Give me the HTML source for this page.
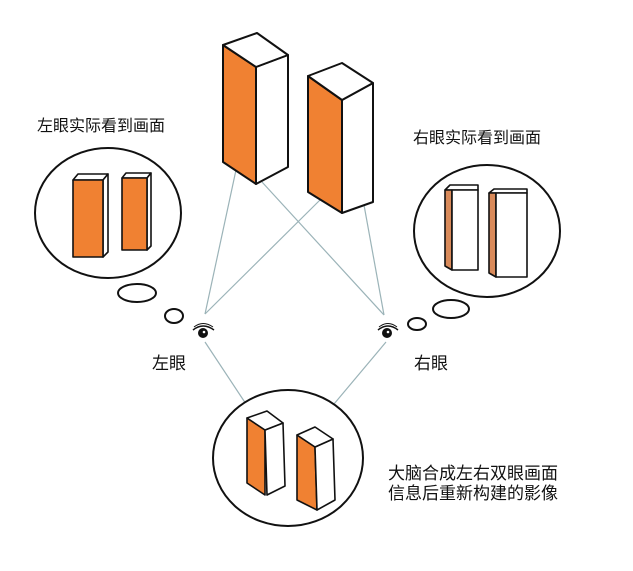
<!DOCTYPE html>
<html><head><meta charset="utf-8"><style>
html,body{margin:0;padding:0;background:#fff;width:633px;height:571px;overflow:hidden}
svg text{font-family:"Liberation Sans","Noto Sans CJK SC",sans-serif;fill:#111}
</style></head><body>
<svg width="633" height="571" viewBox="0 0 633 571" xmlns="http://www.w3.org/2000/svg">
<g stroke="#9bb3b8" stroke-width="1.2" fill="none">
<line x1="236" y1="170" x2="205" y2="314"/>
<line x1="262" y1="182" x2="384" y2="315"/>
<line x1="320" y1="200" x2="205" y2="314"/>
<line x1="364" y1="205" x2="384" y2="315"/>
<line x1="205" y1="342" x2="246" y2="404"/>
<line x1="386" y1="342" x2="334" y2="404"/>
</g>
<g stroke="#111" stroke-width="2" stroke-linejoin="round">
<!-- box 1 -->
<polygon points="223,45 256,67 256,184 223,162" fill="#f08132"/>
<polygon points="256,67 288,55 288,167 256,184" fill="#fff"/>
<polygon points="223,45 257,33 288,55 256,67" fill="#fff"/>
<!-- box 2 -->
<polygon points="308,76 342,100 342,213 308,192" fill="#f08132"/>
<polygon points="342,100 373,83 373,202 342,213" fill="#fff"/>
<polygon points="308,76 342,63 373,83 342,100" fill="#fff"/>
</g>
<!-- left bubble -->
<g stroke="#111" stroke-width="2" fill="#fff">
<ellipse cx="108" cy="213" rx="73" ry="65"/>
<ellipse cx="137" cy="293" rx="19" ry="9"/>
<ellipse cx="174" cy="316" rx="9" ry="7"/>
<ellipse cx="487" cy="231" rx="73" ry="66"/>
<ellipse cx="451" cy="309" rx="18" ry="9"/>
<ellipse cx="417" cy="324" rx="9" ry="6"/>
<ellipse cx="288" cy="458" rx="75" ry="68"/>
</g>
<g stroke="#111" stroke-width="1.6" stroke-linejoin="round">
<polygon points="73,180 78,174 108,174 103,180" fill="#fff"/>
<polygon points="103,180 108,174 108,252 103,257" fill="#fff"/>
<rect x="73" y="180" width="30" height="77" fill="#f08132"/>
<polygon points="122,178 126,173 151,173 147,178" fill="#fff"/>
<polygon points="147,178 151,173 151,246 147,250" fill="#fff"/>
<rect x="122" y="178" width="25" height="72" fill="#f08132"/>
<!-- right bubble bars -->
<polygon points="445,190 450,185 478,185 478,190" fill="#fff"/>
<polygon points="445,190 452,190 452,270 445,266" fill="#d98a5a"/>
<rect x="452" y="190" width="26" height="80" fill="#fff"/>
<polygon points="489,193 494,189 527,189 527,193" fill="#fff"/>
<polygon points="489,193 496,193 496,277 489,273" fill="#d98a5a"/>
<rect x="496" y="193" width="31" height="84" fill="#fff"/>
<!-- bottom boxes -->
<polygon points="247,418 265,430 265,495 247,483" fill="#f08132"/>
<polygon points="265,430 283,423 285,486 267,495" fill="#fff"/>
<polygon points="247,418 267,411 283,423 265,430" fill="#fff"/>
<polygon points="297,435 315,447 317,510 297,500" fill="#f08132"/>
<polygon points="315,447 333,439 335,500 317,510" fill="#fff"/>
<polygon points="297,435 315,427 333,439 315,447" fill="#fff"/>
</g>
<!-- eyes -->
<g>
<path d="M193,330 Q203,322 214,330" stroke="#111" stroke-width="1.5" fill="none"/>
<path d="M194,327 Q203,320 213,327" stroke="#111" stroke-width="1" fill="none"/>
<ellipse cx="203" cy="333" rx="5" ry="5" fill="#111"/>
<circle cx="204" cy="332" r="1.3" fill="#fff"/>
<path d="M378,330 Q388,322 398,330" stroke="#111" stroke-width="1.5" fill="none"/>
<path d="M379,327 Q388,320 397,327" stroke="#111" stroke-width="1" fill="none"/>
<ellipse cx="387" cy="333" rx="5" ry="5" fill="#111"/>
<circle cx="388" cy="332" r="1.3" fill="#fff"/>
</g>
<text x="37" y="131" font-size="16">左眼实际看到画面</text>
<text x="413" y="143" font-size="16">右眼实际看到画面</text>
<text x="152" y="369" font-size="17">左眼</text>
<text x="414" y="369" font-size="17">右眼</text>
<text x="388" y="479" font-size="17">大脑合成左右双眼画面</text>
<text x="388" y="499" font-size="17">信息后重新构建的影像</text>
</svg>
</body></html>
